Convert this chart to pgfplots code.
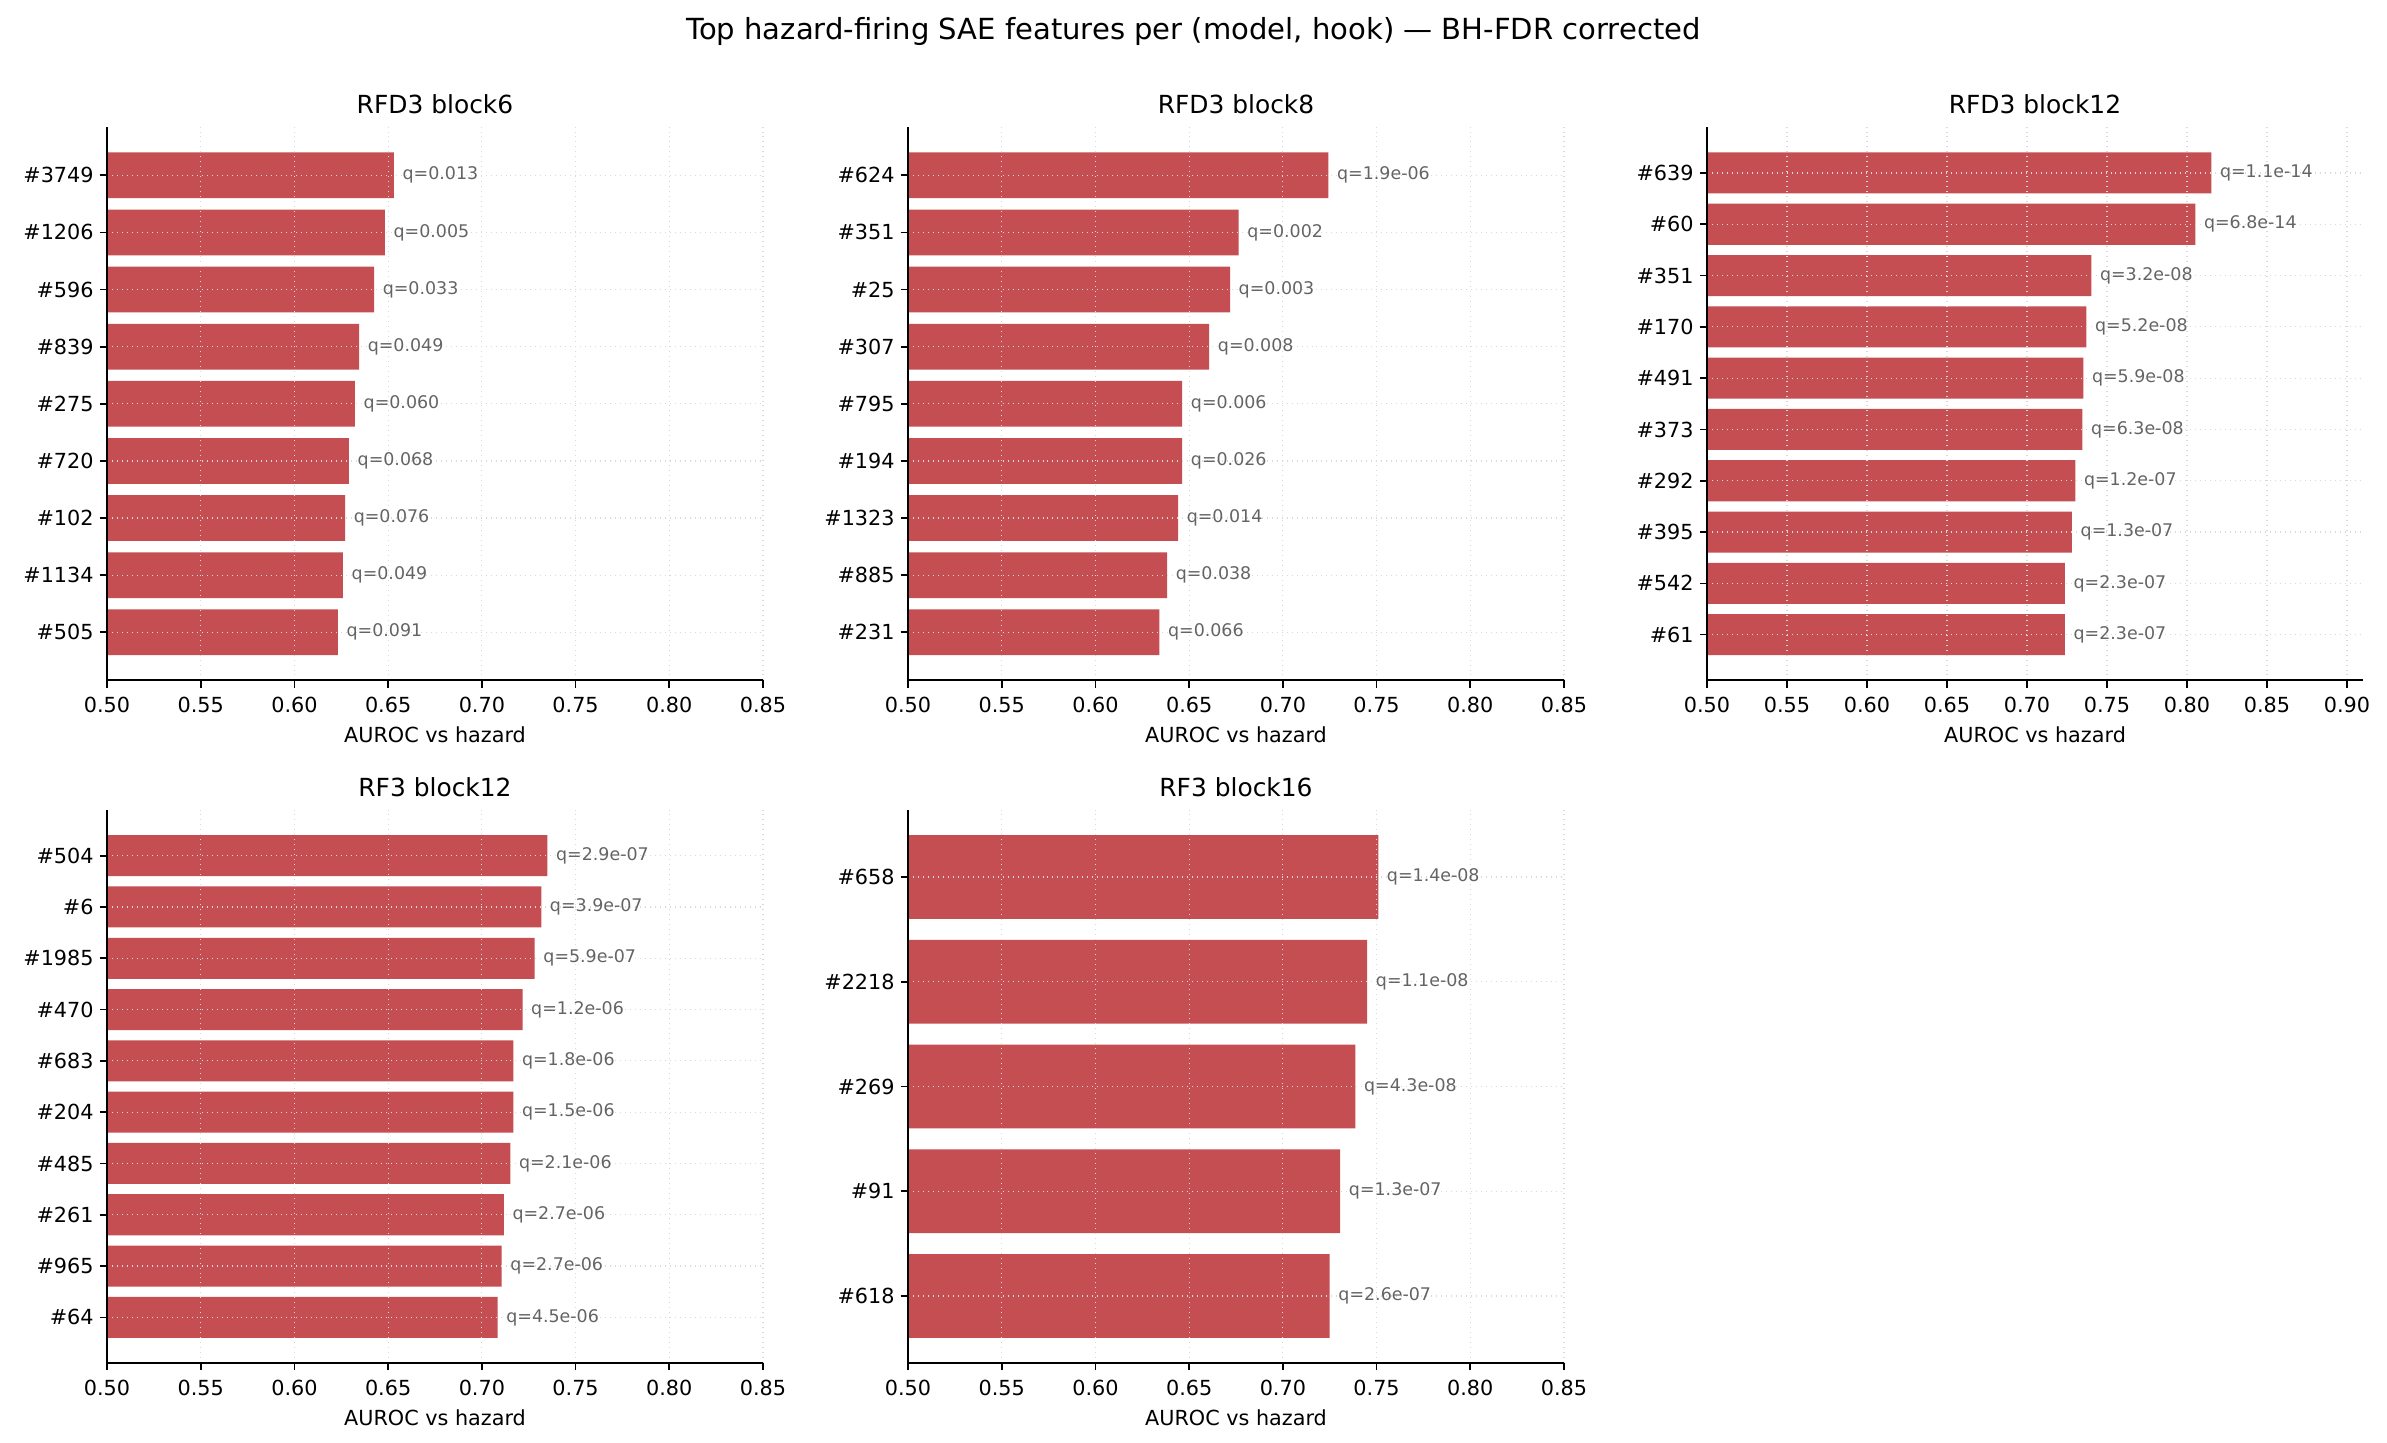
\documentclass[border=0pt]{standalone}
\usepackage{fontspec}
\setmainfont{DejaVu Sans}
\usepackage{pgfplots}
\pgfplotsset{compat=1.18}
\definecolor{barred}{RGB}{196,78,82}
\definecolor{qgray}{RGB}{100,100,100}
\newlength\px
\setlength\px{0.4818pt}

\pgfplotsset{
  saepanel/.style={
    scale only axis, width=656\px, height=553\px,
    anchor=south west,
    xbar, bar width=0.8,
    enlargelimits=false,
    axis x line*=bottom, axis y line*=left,
    tick align=outside, major tick length=3.5pt,
    every tick/.style={black, line width=0.8pt},
    axis line style={line width=0.8pt, black},
    xmin=0.5, xmax=0.85,
    xtick={0.5,0.55,0.6,0.65,0.7,0.75,0.8,0.85},
    % pgfplots already moves the labels by the tick length
    xticklabel style={/pgf/number format/fixed, /pgf/number format/fixed zerofill,
      /pgf/number format/precision=2, anchor=base, yshift=-32.4\px+3.5pt},
    yticklabel style={anchor=east, inner sep=0pt, xshift=-13\px+3.5pt},
    /pgf/number format/assume math mode=true,
    ticklabel style={font=\fontsize{10}{12}\selectfont},
    grid=major, grid style={dotted, line width=0.6pt, gray!30},
    axis on top,
    xlabel={AUROC vs hazard},
    xlabel style={at={(0.5,0)}, anchor=base, yshift=-62\px, font=\fontsize{10}{12}\selectfont},
    every axis title/.style={at={(0.5,1)}, anchor=base, yshift=13.5\px,
      font=\fontsize{12}{14}\selectfont},
    nodes near coords, point meta=explicit symbolic,
    nodes near coords style={anchor=west, inner sep=0pt, xshift=4pt,
      font=\fontsize{8.4}{10}\selectfont, text=qgray},
  },
  sae bars/.style={fill=barred, draw=none},
}

\begin{document}
\begin{tikzpicture}
\path[use as bounding box] (0,0) rectangle (2387\px,-1443\px);

\node[anchor=base, font=\fontsize{14}{17}\selectfont] at (1193.5\px,-39.3\px)
  {Top hazard-firing SAE features per (model, hook) — BH-FDR corrected};

% RFD3 block6
\begin{axis}[saepanel, at={(107\px,-680.3\px)}, title={RFD3 block6},
  ymin=-0.84, ymax=8.84, ytick={0,...,8},
  yticklabels={\#505,\#1134,\#102,\#720,\#275,\#839,\#596,\#1206,\#3749}]
\addplot[sae bars] table[x=a, y=i, meta=q] {
i a q
0 0.6232 q=0.091
1 0.6259 q=0.049
2 0.6270 q=0.076
3 0.6291 q=0.068
4 0.6323 q=0.060
5 0.6345 q=0.049
6 0.6425 q=0.033
7 0.6483 q=0.005
8 0.6531 q=0.013
};
\end{axis}

% RFD3 block8
\begin{axis}[saepanel, at={(908\px,-680.3\px)}, title={RFD3 block8},
  ymin=-0.84, ymax=8.84, ytick={0,...,8},
  yticklabels={\#231,\#885,\#1323,\#194,\#795,\#307,\#25,\#351,\#624}]
\addplot[sae bars] table[x=a, y=i, meta=q] {
i a q
0 0.6341 q=0.066
1 0.6382 q=0.038
2 0.6441 q=0.014
3 0.6463 q=0.026
4 0.6463 q=0.006
5 0.6607 q=0.008
6 0.6718 q=0.003
7 0.6764 q=0.002
8 0.7243 q=1.9e-06
};
\end{axis}

% RFD3 block12
\begin{axis}[saepanel, at={(1707\px,-680.3\px)}, title={RFD3 block12},
  xmax=0.91, xtick={0.5,0.55,0.6,0.65,0.7,0.75,0.8,0.85,0.9},
  ymin=-0.89, ymax=9.89, ytick={0,...,9},
  yticklabels={\#61,\#542,\#395,\#292,\#373,\#491,\#170,\#351,\#60,\#639}]
\addplot[sae bars] table[x=a, y=i, meta=q] {
i a q
0 0.7237 q=2.3e-07
1 0.7237 q=2.3e-07
2 0.7281 q=1.3e-07
3 0.7302 q=1.2e-07
4 0.7346 q=6.3e-08
5 0.7352 q=5.9e-08
6 0.7371 q=5.2e-08
7 0.7402 q=3.2e-08
8 0.8052 q=6.8e-14
9 0.8152 q=1.1e-14
};
\end{axis}

% RF3 block12
\begin{axis}[saepanel, at={(107\px,-1363\px)}, title={RF3 block12},
  ymin=-0.89, ymax=9.89, ytick={0,...,9},
  yticklabels={\#64,\#965,\#261,\#485,\#204,\#683,\#470,\#1985,\#6,\#504}]
\addplot[sae bars] table[x=a, y=i, meta=q] {
i a q
0 0.7084 q=4.5e-06
1 0.7106 q=2.7e-06
2 0.7117 q=2.7e-06
3 0.7152 q=2.1e-06
4 0.7168 q=1.5e-06
5 0.7168 q=1.8e-06
6 0.7217 q=1.2e-06
7 0.7282 q=5.9e-07
8 0.7317 q=3.9e-07
9 0.7350 q=2.9e-07
};
\end{axis}

% RF3 block16
\begin{axis}[saepanel, at={(908\px,-1363\px)}, title={RF3 block16},
  ymin=-0.64, ymax=4.64, ytick={0,...,4},
  yticklabels={\#618,\#91,\#269,\#2218,\#658}]
\addplot[sae bars] table[x=a, y=i, meta=q] {
i a q
0 0.7250 q=2.6e-07
1 0.7306 q=1.3e-07
2 0.7387 q=4.3e-08
3 0.7450 q=1.1e-08
4 0.7509 q=1.4e-08
};
\end{axis}
\end{tikzpicture}
\end{document}
